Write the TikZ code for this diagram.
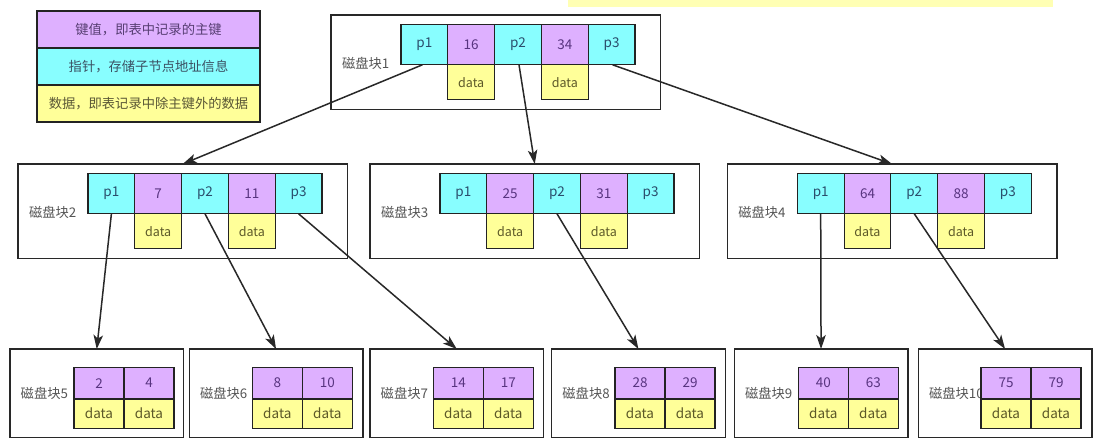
\documentclass[tikz,border=0pt]{standalone}
\usepackage{fontspec}
\setmainfont{Noto Sans CJK SC}
\usetikzlibrary{calc,arrows.meta}
\definecolor{kcol}{RGB}{222,176,255}
\definecolor{pcol}{RGB}{136,254,255}
\definecolor{dcol}{RGB}{255,255,153}
\definecolor{strip}{RGB}{255,255,180}
\definecolor{linec}{RGB}{40,40,40}
\definecolor{cellb}{RGB}{35,35,35}
\definecolor{ktext}{RGB}{88,52,128}
\definecolor{ptext}{RGB}{42,78,108}
\definecolor{dtext}{RGB}{92,88,40}
\definecolor{lbltext}{RGB}{85,85,85}
\tikzset{
  blk/.style={draw=linec, line width=1.4pt, fill=white, inner sep=0pt, outer sep=0pt},
  cellbase/.style={draw=cellb, line width=1.1pt, inner sep=0pt, outer sep=0pt},
  kc/.style={cellbase, fill=kcol, text=ktext, minimum width=46.8pt, minimum height=40.5pt, font=\fontsize{13.5}{13.5}\selectfont},
  pc/.style={cellbase, fill=pcol, text=ptext, minimum width=46.8pt, minimum height=40.5pt, font=\fontsize{13.5}{13.5}\selectfont},
  dc/.style={cellbase, fill=dcol, text=dtext, minimum width=46.8pt, minimum height=35pt, font=\fontsize{12.5}{12.5}\selectfont},
  skc/.style={cellbase, fill=kcol, text=ktext, minimum width=50pt, minimum height=31.7pt, font=\fontsize{13.5}{13.5}\selectfont},
  sdc/.style={cellbase, fill=dcol, text=dtext, minimum width=50pt, minimum height=29.3pt, font=\fontsize{13.5}{13.5}\selectfont},
  lbl/.style={text=lbltext, inner sep=0pt, outer sep=0pt, font=\fontsize{13.3}{13.3}\selectfont},
  legk/.style={cellbase, line width=1.2pt, minimum width=223pt, minimum height=37pt, font=\fontsize{13.3}{13.3}\selectfont},
  arr/.style={draw=linec, line width=1.5pt, -{Stealth[length=14pt,width=9.5pt,inset=3.5pt]}},
}
\newcommand{\topblock}[5]{%
  \node[blk, minimum width=329.5pt, minimum height=94.5pt, anchor=north west] (b#1) at (#2,#3) {};
  \node[lbl, anchor=west] (l#1) at ($(b#1.north west)+(11,48)$) {磁盘块#1};
  \node[pc, anchor=north west] (b#1p1) at ($(b#1.north west)+(70,9.3)$) {p1};
  \node[kc, anchor=north west] (b#1k1) at (b#1p1.north east) {#4};
  \node[pc, anchor=north west] (b#1p2) at (b#1k1.north east) {p2};
  \node[kc, anchor=north west] (b#1k2) at (b#1p2.north east) {#5};
  \node[pc, anchor=north west] (b#1p3) at (b#1k2.north east) {p3};
  \node[dc, anchor=north] (b#1d1) at (b#1k1.south) {data};
  \node[dc, anchor=north] (b#1d2) at (b#1k2.south) {data};
}
\newcommand{\botblock}[5]{%
  \node[blk, minimum width=173.5pt, minimum height=88.3pt, anchor=north west] (b#1) at (#2,349) {};
  \node[lbl, anchor=west] (l#1) at ($(b#1.north west)+(10.7,44.3)$) {磁盘块#1};
  \node[skc, anchor=north west] (b#1k1) at ($(b#1.north west)+(#3,18.3)$) {#4};
  \node[skc, anchor=north west] (b#1k2) at (b#1k1.north east) {#5};
  \node[sdc, anchor=north] (b#1d1) at (b#1k1.south) {data};
  \node[sdc, anchor=north] (b#1d2) at (b#1k2.south) {data};
}
\begin{document}
\begin{tikzpicture}[x=1pt,y=-1pt]
\useasboundingbox[fill=white] (0,0) rectangle (1098,447);
% partially visible yellow strip at top
\fill[strip] (568,0) rectangle (1053,7.3);
% legend
\node[legk, fill=kcol, text=ktext!70!lbltext, anchor=north west] (leg1) at (37,11) {键值，即表中记录的主键};
\node[legk, fill=pcol, text=ptext!60!lbltext, anchor=north] (leg2) at (leg1.south) {指针，存储子节点地址信息};
\node[legk, fill=dcol, text=dtext!70!lbltext, anchor=north] (leg3) at (leg2.south) {数据，即表记录中除主键外的数据};
% top level
\topblock{1}{331}{15}{16}{34}
\topblock{2}{18}{164}{7}{11}
\topblock{3}{370}{164}{25}{31}
\topblock{4}{727.3}{164}{64}{88}
% leaves
\botblock{5}{10}{64}{2}{4}
\botblock{6}{189.3}{63}{8}{10}
\botblock{7}{370}{63.3}{14}{17}
\botblock{8}{551.7}{63.3}{28}{29}
\botblock{9}{734.3}{64}{40}{63}
\botblock{10}{918.3}{62.7}{75}{79}
% connectors
\draw[arr] ($(b1p1.south)+(-2,0)$) -- (b2.north);
\draw[arr] ($(b1p2.south)+(1,0)$) -- (b3.north);
\draw[arr] ($(b1p3.south)+(1,0)$) -- (b4.north);
\draw[arr] (b2p1.south) -- (b5.north);
\draw[arr] (b2p2.south) -- (b6.north);
\draw[arr] (b2p3.south) -- (b7.north);
\draw[arr] (b3p2.south) -- (b8.north);
\draw[arr] (b4p1.south) -- (b9.north);
\draw[arr] (b4p2.south) -- (b10.north);
\end{tikzpicture}
\end{document}
